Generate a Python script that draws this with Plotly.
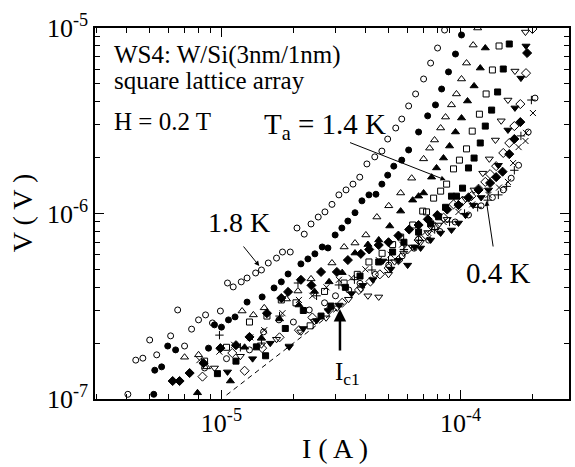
import plotly.graph_objects as go

# Current I in microamps, voltage V in microvolts, one pair of lists per temperature run.
I_18K = [4.06, 4.38, 4.69, 5.01, 5.36, 6.13, 6.56, 7.01, 7.50, 8.02, 8.58, 9.17, 9.90, 10.6, 11.2, 12.1,
         12.8, 13.9, 14.7, 15.7, 17.0, 18.0, 19.4, 20.7, 22.2, 23.7, 25.4, 27.1, 29.0, 31.0, 33.2, 35.5,
         37.9, 40.6, 43.8, 46.9, 49.6, 53.6, 56.8, 60.7, 64.9, 70.1, 75.0, 80.2, 85.8]
V_18K = [0.106, 0.162, 0.166, 0.208, 0.173, 0.219, 0.302, 0.193, 0.238, 0.267, 0.284, 0.257, 0.298, 0.422,
         0.402, 0.428, 0.449, 0.478, 0.496, 0.541, 0.575, 0.620, 0.620, 0.835, 0.774, 0.878, 0.957, 1.02,
         1.12, 1.26, 1.34, 1.44, 1.57, 1.85, 2.02, 2.17, 2.52, 2.89, 3.23, 3.80, 4.41, 5.31, 6.47, 7.80, 9.75]

I_17K = [5.21, 5.26, 5.62, 5.96, 6.43, 8.83, 9.35, 10.0, 10.7, 11.4, 12.8, 14.8, 16.6, 17.8, 19.0, 21.5,
         23.0, 24.6, 26.4, 27.9, 29.9, 31.9, 33.8, 36.2, 38.7, 41.4, 44.3, 46.9, 49.6, 52.6, 56.8, 60.7,
         66.8, 72.9, 78.6, 83.4, 89.1, 95.3, 101]
V_17K = [0.106, 0.143, 0.149, 0.193, 0.184, 0.188, 0.251, 0.244, 0.267, 0.277, 0.333, 0.355, 0.397, 0.428,
         0.472, 0.535, 0.569, 0.606, 0.660, 0.652, 0.766, 0.835, 0.911, 1.01, 1.17, 1.26, 1.27, 1.44, 1.61,
         1.80, 1.94, 2.20, 2.75, 3.36, 3.85, 4.69, 5.80, 7.24, 9.17]

I_16K = [7.01, 8.02, 8.66, 12.2, 13.6, 15.1, 18.7, 20.9, 23.7, 29.0, 32.6, 36.2, 40.2, 44.7, 50.1, 56.2,
         62.5, 70.1, 74.3, 77.9, 82.6, 86.6, 91.7, 96.2, 101, 106, 113, 118]
V_16K = [0.168, 0.173, 0.149, 0.298, 0.284, 0.310, 0.346, 0.382, 0.444, 0.541, 0.660, 0.693, 0.766, 0.957,
         1.10, 1.29, 1.55, 1.97, 2.25, 2.49, 2.89, 3.31, 3.85, 4.41, 5.31, 6.47, 8.09, 10.0]

I_15K = [7.94, 10.9, 12.5, 14.7, 17.5, 21.1, 24.5, 28.2, 32.0, 36.2, 41.0, 45.5, 50.6, 56.2, 63.1, 66.8,
         70.1, 75.7, 79.4, 84.9, 90.0, 95.3, 101, 107, 114, 121, 127]
V_15K = [0.108, 0.125, 0.190, 0.213, 0.270, 0.321, 0.380, 0.428, 0.480, 0.612, 0.680, 0.720, 0.856, 1.03,
         1.18, 1.24, 1.29, 1.57, 1.76, 1.99, 2.31, 2.75, 3.27, 4.04, 4.87, 6.08, 7.80]

I_14K = [8.50, 10.5, 13.1, 15.5, 17.8, 20.5, 23.5, 27.0, 32.6, 37.0, 41.4, 47.0, 52.0, 56.2, 63.1, 69.5,
         72.1, 77.2, 82.6, 87.5, 93.5, 99.0, 106, 112, 120, 128, 136, 145]
V_14K = [0.160, 0.190, 0.260, 0.280, 0.342, 0.330, 0.248, 0.380, 0.422, 0.470, 0.548, 0.610, 0.680, 0.746,
         0.867, 1.03, 1.02, 1.21, 1.32, 1.44, 1.74, 1.94, 2.23, 2.78, 3.43, 4.41, 5.94, 8.00]

I_12K = [9.62, 11.5, 14.0, 15.3, 18.5, 22.0, 26.1, 28.7, 33.0, 38.0, 45.5, 52.0, 58.0, 66.8, 75.0, 81.0,
         86.6, 91.7, 96.2, 102, 108, 114, 121, 127, 135, 143, 151, 160]
V_12K = [0.137, 0.160, 0.191, 0.171, 0.240, 0.300, 0.280, 0.317, 0.400, 0.460, 0.548, 0.620, 0.700, 0.794,
         0.880, 0.960, 1.08, 1.24, 1.24, 1.37, 1.76, 1.99, 2.40, 2.96, 3.61, 4.52, 6.01, 8.20]

I_10K = [9.35, 12.0, 14.7, 17.0, 19.2, 21.5, 24.5, 27.4, 30.5, 34.0, 38.3, 41.0, 45.5, 50.0, 53.0, 57.9,
         63.0, 68.0, 73.0, 80.9, 88.0, 98.1, 105, 114, 124, 132, 140, 148, 158, 169, 187]
V_10K = [0.147, 0.170, 0.196, 0.210, 0.193, 0.230, 0.262, 0.274, 0.310, 0.345, 0.392, 0.360, 0.355, 0.470,
         0.550, 0.612, 0.660, 0.700, 0.790, 0.867, 0.930, 1.11, 1.20, 1.34, 1.65, 1.97, 2.49, 3.16, 4.09,
         5.86, 9.51]

I_09K = [10.6, 13.5, 16.0, 19.2, 22.0, 25.0, 28.0, 31.0, 35.0, 39.0, 43.0, 47.3, 51.1, 55.0, 60.1, 64.3,
         68.1, 75.0, 82.6, 91.7, 98.1, 105, 113, 122, 131, 144, 158, 169, 179, 188]
V_09K = [0.140, 0.165, 0.200, 0.191, 0.240, 0.265, 0.300, 0.321, 0.370, 0.410, 0.440, 0.555, 0.502, 0.560,
         0.527, 0.660, 0.652, 0.720, 0.785, 0.815, 0.889, 0.980, 1.11, 1.22, 1.34, 1.82, 2.82, 3.71, 5.37,
         8.00]

I_08K = [8.33, 11.1, 12.5, 14.8, 17.5, 21.1, 24.0, 28.2, 32.0, 37.6, 42.0, 46.0, 50.1, 55.0, 60.0, 66.8,
         72.0, 78.0, 85.0, 93.5, 102, 111, 119, 127, 133, 141, 151, 160, 168, 178, 188, 200]
V_08K = [0.132, 0.177, 0.142, 0.188, 0.215, 0.235, 0.275, 0.302, 0.330, 0.387, 0.430, 0.470, 0.508, 0.560,
         0.640, 0.719, 0.760, 0.850, 0.950, 1.12, 1.17, 1.24, 1.36, 1.48, 1.63, 1.80, 2.12, 2.40, 2.96,
         3.89, 5.71, 9.88]

I_07K = [6.25, 6.68, 7.36, 8.41, 9.90, 11.5, 13.1, 15.5, 17.8, 19.0, 21.5, 23.8, 26.1, 30.4, 33.8, 38.3,
         41.5, 45.5, 50.0, 55.0, 61.0, 66.8, 73.0, 80.0, 88.0, 98.1, 108, 119, 133, 141, 150, 160, 168,
         178, 190]
V_07K = [0.125, 0.125, 0.138, 0.156, 0.188, 0.195, 0.216, 0.290, 0.350, 0.378, 0.439, 0.410, 0.484, 0.484,
         0.561, 0.606, 0.640, 0.676, 0.700, 0.760, 0.820, 0.867, 0.930, 0.980, 1.05, 1.11, 1.22, 1.34,
         1.46, 1.57, 1.68, 2.09, 2.52, 3.11, 7.33]

I_06K = [8.09, 9.80, 11.3, 13.2, 15.1, 18.0, 21.1, 24.0, 27.5, 31.0, 35.0, 40.0, 45.5, 51.0, 57.0, 66.8,
         75.0, 85.0, 98.1, 112, 131, 145, 158, 166, 175, 187, 188, 201]
V_06K = [0.162, 0.180, 0.196, 0.215, 0.235, 0.290, 0.342, 0.360, 0.400, 0.439, 0.450, 0.500, 0.561, 0.600,
         0.680, 0.766, 0.820, 0.900, 1.02, 1.12, 1.26, 1.38, 1.48, 1.87, 2.28, 2.46, 2.72, 3.48]

I_05K = [9.81, 12.0, 14.7, 17.5, 20.9, 25.0, 31.0, 36.0, 42.6, 50.0, 58.0, 66.8, 78.0, 90.0, 104, 118,
         130, 144, 156, 168, 179, 198]
V_05K = [0.221, 0.190, 0.208, 0.280, 0.422, 0.360, 0.412, 0.440, 0.496, 0.560, 0.640, 0.719, 0.820, 0.900,
         1.00, 1.08, 1.18, 1.26, 1.40, 1.71, 2.62, 4.09]

I_04K = [8.50, 10.5, 13.1, 15.0, 17.4, 20.0, 23.3, 27.0, 30.0, 34.1, 38.0, 44.0, 50.1, 57.0, 64.0, 73.6,
         82.0, 95.0, 108, 122, 136, 151, 163, 175, 192, 205]
V_04K = [0.147, 0.165, 0.184, 0.230, 0.267, 0.260, 0.302, 0.330, 0.360, 0.387, 0.420, 0.470, 0.527, 0.590,
         0.650, 0.719, 0.800, 0.900, 0.982, 1.10, 1.22, 1.34, 1.55, 1.82, 2.75, 4.19]

# Ohmic reference line V = R * I through the onset region
ohmic_R = 0.01            # ohm
ohmic_I = [10.5, 33.0]    # microamps

runs = [
    (I_18K, V_18K, "circle-open"),
    (I_17K, V_17K, "circle"),
    (I_16K, V_16K, "triangle-up-open"),
    (I_15K, V_15K, "triangle-up"),
    (I_14K, V_14K, "square-open"),
    (I_12K, V_12K, "square"),
    (I_10K, V_10K, "triangle-down-open"),
    (I_09K, V_09K, "triangle-down"),
    (I_08K, V_08K, "diamond-open"),
    (I_07K, V_07K, "diamond"),
    (I_06K, V_06K, "x-thin-open"),
    (I_05K, V_05K, "cross-thin-open"),
    (I_04K, V_04K, "circle-open"),
]

MU = 1e-6
FONT = "Liberation Serif"

fig = go.Figure()

fig.add_trace(go.Scatter(
    x=[i * MU for i in ohmic_I],
    y=[ohmic_R * i * MU for i in ohmic_I],
    mode="lines", line=dict(color="black", width=1, dash="5px,4px"),
    hoverinfo="skip", showlegend=False))

for I, V, sym in runs:
    size = 6
    if sym.startswith(("triangle", "diamond")):
        size = 7
    fig.add_trace(go.Scatter(
        x=[i * MU for i in I], y=[v * MU for v in V],
        mode="markers", showlegend=False,
        marker=dict(symbol=sym, size=size, color="black",
                    line=dict(color="black", width=1))))

# plot-area geometry in pixels
L, T, W, H = 95, 28, 476, 371
FW, FH = 575, 467


def px(x):
    return (x - L) / W


def py(y):
    return (T + H - y) / H


def minor_vals(lo, hi):
    out = []
    for e in range(lo, hi):
        for m in range(2, 10):
            out.append(m * 10.0 ** e)
    return out


axis_common = dict(
    type="log", showgrid=False, zeroline=False,
    showline=True, linecolor="black", linewidth=1.5,
    mirror="allticks", ticks="inside", ticklen=9, tickwidth=1.2, tickcolor="black",
    tickfont=dict(family=FONT, size=26, color="black"),
)

fig.update_xaxes(
    **axis_common,
    range=[-5.529, -3.546],
    tickvals=[1e-5, 1e-4],
    ticktext=["10<sup>-5</sup>", "10<sup>-4</sup>"],
    minor=dict(ticks="inside", ticklen=5, tickwidth=1, tickcolor="black",
               tickvals=minor_vals(-6, -3)),
)
fig.update_yaxes(
    **axis_common,
    range=[-7, -5],
    tickvals=[1e-7, 1e-6, 1e-5],
    ticktext=["10<sup>-7</sup>", "10<sup>-6</sup>", "10<sup>-5</sup>"],
    minor=dict(ticks="inside", ticklen=5, tickwidth=1, tickcolor="black",
               tickvals=minor_vals(-7, -5)),
)

anns = []


def text(x, y, s, size=25, xanchor="left"):
    anns.append(dict(x=px(x), y=py(y), xref="paper", yref="paper", text=s,
                     showarrow=False, xanchor=xanchor, yanchor="middle",
                     font=dict(family=FONT, size=size, color="black")))


def arrow(x0, y0, x1, y1, width=1, head=2, hsize=1.0):
    # arrow drawn from (x0, y0) to its head at (x1, y1), pixel positions
    anns.append(dict(x=px(x1), y=py(y1), xref="paper", yref="paper",
                     ax=x0 - x1, ay=y0 - y1, axref="pixel", ayref="pixel",
                     text="", showarrow=True, arrowhead=head, arrowsize=hsize,
                     arrowwidth=width, arrowcolor="black", standoff=0))


text(112, 55, "WS4: W/Si(3nm/1nm)")
text(112, 80, "square lattice array")
text(112, 121, "H = 0.2 T")
text(263, 126, "T<sub>a</sub> = 1.4 K", size=29)
text(206, 223, "1.8 K", size=28)
text(466, 273, "0.4 K", size=29)
text(334, 373, "I<sub>c1</sub>")
text(336, 449, "I ( A )", size=28, xanchor="center")
anns.append(dict(x=px(22), y=py(213), xref="paper", yref="paper", text="V ( V )",
                 showarrow=False, textangle=-90, xanchor="center", yanchor="middle",
                 font=dict(family=FONT, size=28, color="black")))

arrow(350, 142, 447, 180)
arrow(243, 245, 260, 266)
arrow(495, 248, 488, 201)
arrow(341, 352, 341, 309, width=2.5, head=2, hsize=1.0)

fig.update_layout(
    width=FW, height=FH,
    margin=dict(l=L, r=FW - L - W, t=T, b=FH - T - H),
    paper_bgcolor="white", plot_bgcolor="white",
    annotations=anns, showlegend=False,
)

fig.write_html("out.html")
